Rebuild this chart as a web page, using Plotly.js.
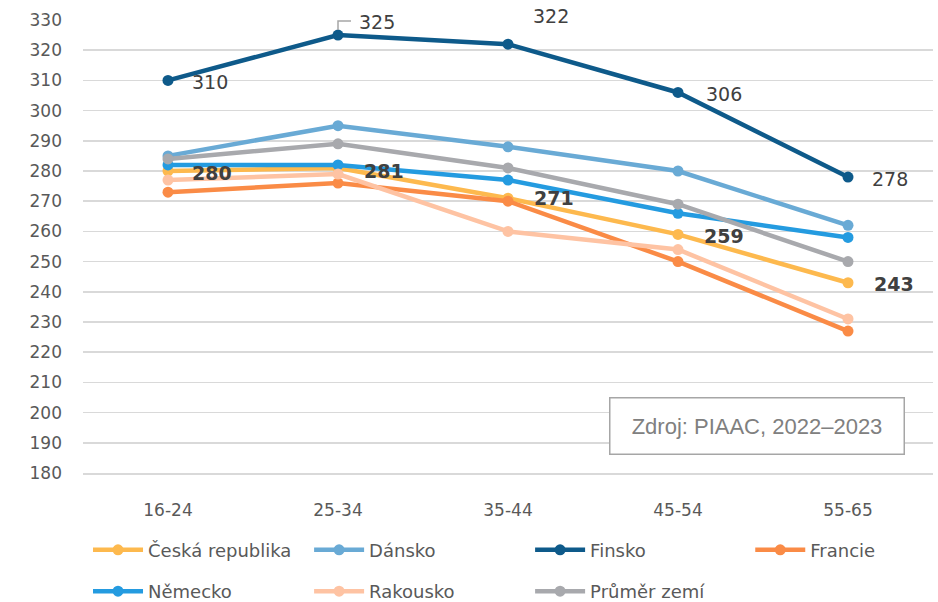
<!DOCTYPE html>
<html>
<head>
<meta charset="utf-8">
<script src="https://cdn.plot.ly/plotly-3.0.1.min.js"></script>
<style>html,body{margin:0;padding:0;background:#fff;}#chart{width:938px;height:602px;}</style>
</head>
<body>
<div id="chart"></div>
<script>
var categories = ['16-24', '25-34', '35-44', '45-54', '55-65'];
var ceska = [280, 281, 271, 259, 243];
var dansko = [285, 295, 288, 280, 262];
var finsko = [310, 325, 322, 306, 278];
var francie = [273, 276, 270, 250, 227];
var nemecko = [282, 282, 277, 266, 258];
var rakousko = [277, 279, 260, 254, 231];
var prumer = [284, 289, 281, 269, 250];
var seriesNames = ['Česká republika', 'Dánsko', 'Finsko', 'Francie', 'Německo', 'Rakousko', 'Průměr zemí'];
var seriesColors = ['#FDB94E', '#69AAD5', '#0E5A8A', '#FA8B46', '#249BE0', '#FEC3A3', '#A8A9AD'];
var seriesLegends = ['legend', 'legend2', 'legend3', 'legend4', 'legend', 'legend2', 'legend3'];
var sourceText = 'Zdroj: PIAAC, 2022–2023';
var yTicks = [180,190,200,210,220,230,240,250,260,270,280,290,300,310,320,330];

var allSeries = [ceska, dansko, finsko, francie, nemecko, rakousko, prumer];
var FONT = 'DejaVu Sans, sans-serif';

var traces = allSeries.map(function (vals, i) {
  return {
    type: 'scatter', mode: 'lines+markers',
    x: categories, y: vals, name: seriesNames[i],
    legend: seriesLegends[i], legendgroup: 'g' + i,
    line: {color: seriesColors[i], width: 4.5},
    marker: {color: seriesColors[i], size: 11},
    hoverinfo: 'skip'
  };
});

// data labels
var finShift = [[22, -2], [19, 13], [23, 28], [26, -2], [22, -2]];
var czShift = [[22, -2], [24, -3], [24, 0], [24, -2], [24, -1]];
var annotations = [];
categories.forEach(function (c, j) {
  annotations.push({
    x: c, y: finsko[j], xref: 'x', yref: 'y', text: String(finsko[j]),
    showarrow: false, xanchor: 'left', yanchor: 'middle',
    xshift: finShift[j][0], yshift: finShift[j][1],
    font: {family: FONT, size: 19, color: '#404040'}
  });
  annotations.push({
    x: c, y: ceska[j], xref: 'x', yref: 'y', text: '<b>' + ceska[j] + '</b>',
    showarrow: false, xanchor: 'left', yanchor: 'middle',
    xshift: czShift[j][0], yshift: czShift[j][1],
    font: {family: FONT, size: 19, color: '#404040'}
  });
});
annotations.push({
  x: 0.793, y: 0.1038, xref: 'paper', yref: 'paper', text: sourceText,
  showarrow: false, xanchor: 'center', yanchor: 'middle',
  width: 291, height: 53, borderpad: 1,
  bordercolor: '#A6A6A6', borderwidth: 1.5, bgcolor: '#FFFFFF',
  font: {family: 'Liberation Sans, Arial, sans-serif', size: 22, color: '#808080'}
});

// leader line for the 325 label
var shapes = [{
  type: 'path', xref: 'x', yref: 'y',
  xsizemode: 'pixel', ysizemode: 'pixel',
  xanchor: categories[1], yanchor: finsko[1],
  path: 'M0,5 L0,14 L13,14',
  line: {color: '#A6A6A6', width: 1.5}
}];

function leg(x) {
  return {
    x: x, y: 0.117, xanchor: 'left', yanchor: 'top', xref: 'paper', yref: 'container',
    orientation: 'v', itemwidth: 50, tracegroupgap: 15,
    font: {family: FONT, size: 18, color: '#595959'},
    bgcolor: 'rgba(0,0,0,0)', borderwidth: 0
  };
}

var layout = {
  width: 938, height: 602,
  margin: {l: 83, r: 5, t: 20, b: 129, autoexpand: false},
  paper_bgcolor: '#FFFFFF', plot_bgcolor: '#FFFFFF',
  showlegend: true,
  xaxis: {
    type: 'category', range: [-0.5, 4.5], showgrid: false, zeroline: false,
    showline: true, linecolor: '#D9D9D9', linewidth: 1.5,
    ticks: '', fixedrange: true, automargin: false,
    tickfont: {family: FONT, size: 17, color: '#595959'},
    ticklabelstandoff: 21
  },
  yaxis: {
    range: [180, 330], tickvals: yTicks, ticktext: yTicks.map(String),
    showgrid: true, gridcolor: '#D9D9D9', gridwidth: 1.5, zeroline: false,
    showline: false, ticks: '', fixedrange: true, automargin: false,
    tickfont: {family: FONT, size: 17, color: '#595959'},
    ticklabelstandoff: 20
  },
  legend: leg(0.0059),
  legend2: leg(0.266),
  legend3: leg(0.526),
  legend4: leg(0.785),
  shapes: shapes,
  annotations: annotations
};

Plotly.newPlot('chart', traces, layout, {displayModeBar: false, staticPlot: true});
</script>
</body>
</html>
